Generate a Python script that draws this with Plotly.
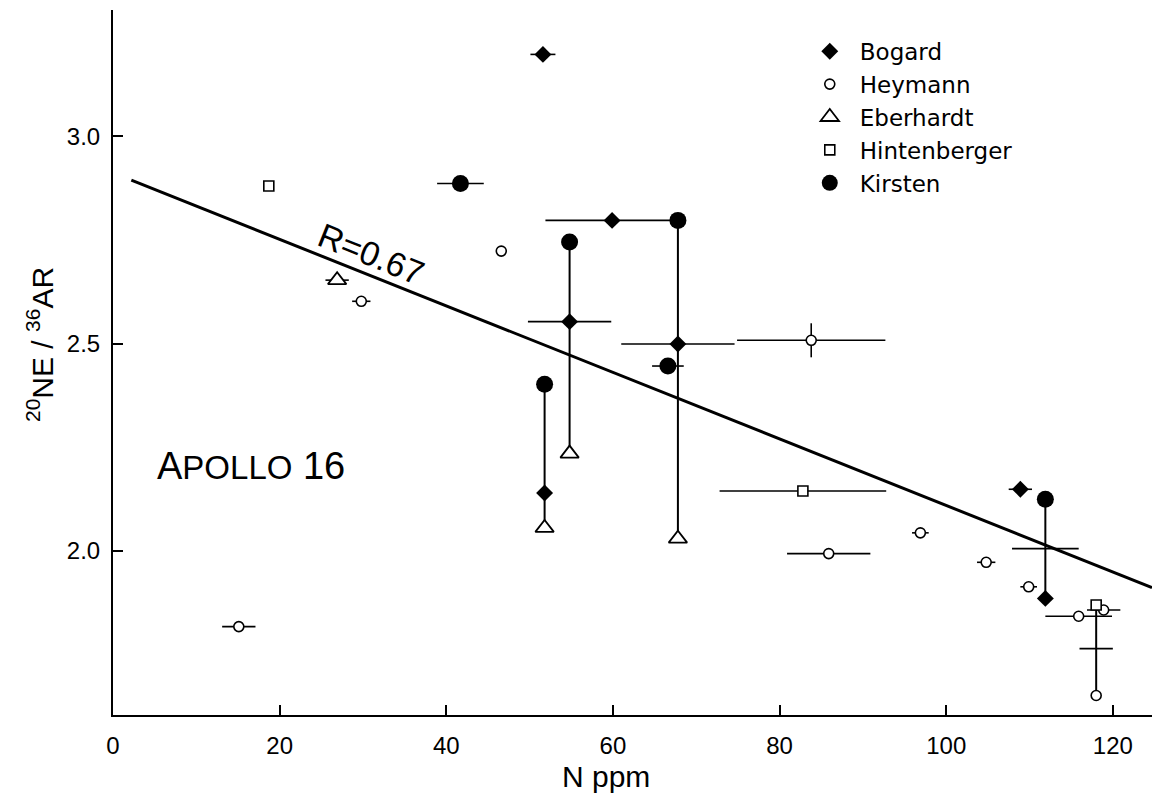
import plotly.graph_objects as go

# ---- data: N content (ppm) vs 20Ne/36Ar, Apollo 16 samples ----
# sample ids tie together measurements of the same sample by different labs
bogard_n = [51.6, 59.9, 54.8, 67.8, 51.8, 108.9, 111.9]
bogard_ratio = [3.197, 2.797, 2.553, 2.499, 2.140, 2.149, 1.886]
bogard_dn = [1.5, 8.0, 5.0, 6.8, 0, 1.4, 0]
bogard_sample = [None, None, "B", "C", "A", None, "D"]

heymann_n = [15.1, 29.8, 46.6, 83.8, 85.9, 96.9, 104.8, 109.9, 115.9, 118.9, 118.0]
heymann_ratio = [1.818, 2.602, 2.723, 2.508, 1.994, 2.044, 1.973, 1.914, 1.843, 1.858, 1.652]
heymann_dn = [2.0, 1.1, 0, 8.9, 5.0, 1.0, 1.1, 1.0, 4.0, 2.0, 0]
heymann_dr = [0, 0, 0, 0.041, 0, 0, 0, 0, 0, 0, 0]
heymann_sample = [None, None, None, None, None, None, None, None, None, None, "E"]

eberhardt_n = [26.9, 54.8, 51.8, 67.8]
eberhardt_ratio = [2.653, 2.235, 2.056, 2.030]
eberhardt_dn = [1.4, 0, 0, 0]
eberhardt_sample = [None, "B", "A", "C"]

hintenberger_n = [18.7, 82.8, 118.0]
hintenberger_ratio = [2.880, 2.145, 1.870]
hintenberger_dn = [0, 10.0, 0]
hintenberger_sample = [None, None, "E"]

kirsten_n = [41.7, 54.8, 67.8, 51.8, 66.6, 111.9]
kirsten_ratio = [2.886, 2.745, 2.797, 2.402, 2.446, 2.125]
kirsten_dn = [2.8, 0, 0, 0, 1.9, 0]
kirsten_sample = [None, "B", "C", "A", None, "D"]

# averaged values shown only as error crosses
mean_n = [111.9, 118.0]
mean_ratio = [2.006, 1.765]
mean_dn = [4.0, 2.0]
mean_sample = ["D", "E"]

# regression line end points
fit_n = [2.2, 124.7]
fit_ratio = [2.894, 1.912]

x_ticks = [0, 20, 40, 60, 80, 100, 120]
x_tick_text = ["0", "20", "40", "60", "80", "100", "120"]
y_ticks = [2.0, 2.5, 3.0]
y_tick_text = ["2.0", "2.5", "3.0"]

TEXT_FONT = "Liberation Sans, Arial, sans-serif"
LEGEND_FONT = "DejaVu Sans, Liberation Sans, sans-serif"
TICK_FONT = "Liberation Sans, Arial, sans-serif"

# ---- vertical tie lines between measurements of one sample ----
groups = {}
for ns, rs, ss in [
    (bogard_n, bogard_ratio, bogard_sample),
    (heymann_n, heymann_ratio, heymann_sample),
    (eberhardt_n, eberhardt_ratio, eberhardt_sample),
    (hintenberger_n, hintenberger_ratio, hintenberger_sample),
    (kirsten_n, kirsten_ratio, kirsten_sample),
    (mean_n, mean_ratio, mean_sample),
]:
    for n, r, s in zip(ns, rs, ss):
        if s is not None:
            groups.setdefault(s, []).append((n, r))

tie_x, tie_y = [], []
for s, pts in groups.items():
    xs = [p[0] for p in pts]
    ys = [p[1] for p in pts]
    xm = sum(xs) / len(xs)
    tie_x += [xm, xm, None]
    tie_y += [max(ys), min(ys), None]

fig = go.Figure()

fig.add_trace(go.Scatter(x=tie_x, y=tie_y, mode="lines",
                         line=dict(color="black", width=2),
                         showlegend=False, hoverinfo="skip"))

fig.add_trace(go.Scatter(x=fit_n, y=fit_ratio, mode="lines",
                         line=dict(color="black", width=3),
                         showlegend=False, hoverinfo="skip"))


def err(arr):
    return dict(type="data", array=arr, visible=True, color="black",
                thickness=1.6, width=0)


fig.add_trace(go.Scatter(
    x=mean_n, y=mean_ratio, mode="markers", name="mean",
    marker=dict(size=1, color="rgba(0,0,0,0)"),
    error_x=err(mean_dn), showlegend=False))

fig.add_trace(go.Scatter(
    x=bogard_n, y=bogard_ratio, mode="markers", name="Bogard",
    marker=dict(symbol="diamond", size=13, color="black"),
    error_x=err(bogard_dn)))

fig.add_trace(go.Scatter(
    x=heymann_n, y=heymann_ratio, mode="markers", name="Heymann",
    marker=dict(symbol="circle", size=10, color="white",
                line=dict(color="black", width=1.6)),
    error_x=err(heymann_dn), error_y=err(heymann_dr)))

fig.add_trace(go.Scatter(
    x=eberhardt_n, y=eberhardt_ratio, mode="markers", name="Eberhardt",
    marker=dict(symbol="triangle-up", size=16, color="white",
                line=dict(color="black", width=1.8)),
    error_x=err(eberhardt_dn)))

fig.add_trace(go.Scatter(
    x=hintenberger_n, y=hintenberger_ratio, mode="markers", name="Hintenberger",
    marker=dict(symbol="square", size=10, color="white",
                line=dict(color="black", width=1.6)),
    error_x=err(hintenberger_dn)))

fig.add_trace(go.Scatter(
    x=kirsten_n, y=kirsten_ratio, mode="markers", name="Kirsten",
    marker=dict(symbol="circle", size=17, color="black"),
    error_x=err(kirsten_dn)))

fig.update_layout(
    width=1152, height=805,
    margin=dict(l=113, r=0, t=10, b=90, pad=0),
    paper_bgcolor="white", plot_bgcolor="white",
    font=dict(family=TEXT_FONT, color="black"),
    showlegend=True,
    legend=dict(x=0.661, y=0.972, xanchor="left", yanchor="top",
                bgcolor="rgba(0,0,0,0)", borderwidth=0,
                itemwidth=50, font=dict(size=23, family=LEGEND_FONT),
                tracegroupgap=0),
    xaxis=dict(range=[0, 124.7], showgrid=False, zeroline=False,
               showline=True, linecolor="black", linewidth=2,
               ticks="inside", ticklen=10, tickwidth=1.6, tickcolor="black",
               tickvals=x_ticks, ticktext=x_tick_text,
               tickfont=dict(size=24, family=TICK_FONT),
               ticklabelstandoff=8),
    yaxis=dict(range=[1.605, 3.304], showgrid=False, zeroline=False,
               showline=True, linecolor="black", linewidth=2,
               ticks="inside", ticklen=10, tickwidth=1.6, tickcolor="black",
               tickvals=y_ticks, ticktext=y_tick_text,
               tickfont=dict(size=24, family=TICK_FONT),
               ticklabelstandoff=6),
)

fig.add_annotation(x=31.0, y=2.716, xref="x", yref="y",
                   text="R=0.67", showarrow=False, textangle=21.8,
                   font=dict(size=34, family=TEXT_FONT))

fig.add_annotation(x=16.6, y=2.205, xref="x", yref="y",
                   text="A<span style='font-size:33px'>POLLO</span> 16",
                   showarrow=False, font=dict(size=38, family=TEXT_FONT))

fig.add_annotation(x=(606 - 113) / 1039, y=-(777 - 715) / 705,
                   xref="paper", yref="paper",
                   text="N ppm", showarrow=False, yanchor="middle",
                   font=dict(size=30, family=TEXT_FONT))

fig.add_annotation(x=-(113 - 40) / 1039, y=1 - (345 - 10) / 705,
                   xref="paper", yref="paper",
                   text="<sup>20</sup>NE / <sup>36</sup>AR",
                   showarrow=False, textangle=-90,
                   xanchor="center", yanchor="middle",
                   font=dict(size=30, family=TEXT_FONT))

fig.write_html("out.html")
